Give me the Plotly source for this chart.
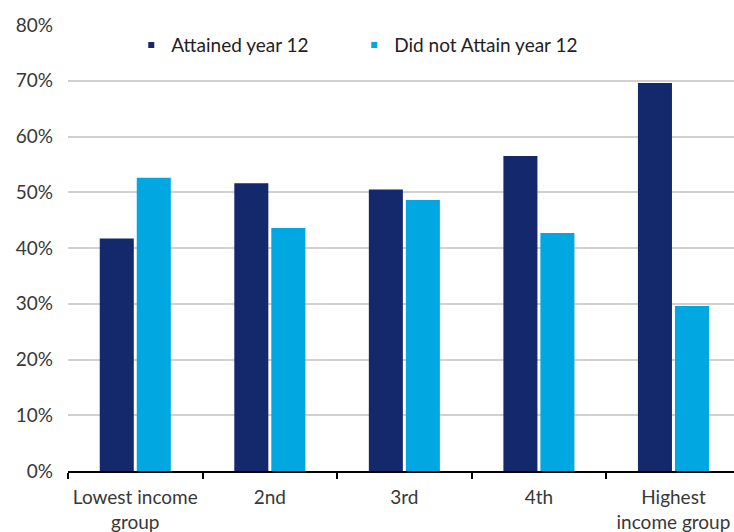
import plotly.graph_objects as go

# Share of people in each income group, by year 12 attainment
categories = ["Lowest income<br>group", "2nd", "3rd", "4th", "Highest<br>income group"]
attained = [41.7, 51.6, 50.5, 56.5, 69.6]
not_attained = [52.6, 43.6, 48.6, 42.7, 29.6]
y_ticks = [0, 10, 20, 30, 40, 50, 60, 70, 80]
y_tick_labels = [f"{v}%" for v in y_ticks]

series_names = ["Attained year 12", "Did not Attain year 12"]
dark_blue = "#14296B"
light_blue = "#00A7E1"
font_family = "Lato, 'Open Sans', sans-serif"
text_color = "#383838"

fig = go.Figure()
fig.add_trace(go.Bar(x=categories, y=attained, marker_color=dark_blue,
                     marker_line_width=0, showlegend=False, name=series_names[0]))
fig.add_trace(go.Bar(x=categories, y=not_attained, marker_color=light_blue,
                     marker_line_width=0, showlegend=False, name=series_names[1]))

# Small square legend keys
for name, col in zip(series_names, [dark_blue, light_blue]):
    fig.add_trace(go.Scatter(x=[None], y=[None], mode="markers", name=name,
                             marker=dict(symbol="square", size=6, color=col)))

fig.update_layout(
    width=734, height=532,
    margin=dict(l=68, r=0, t=25, b=61, autoexpand=False),
    paper_bgcolor="white", plot_bgcolor="white",
    barmode="group", bargap=0.45, bargroupgap=0.08,
    font=dict(family=font_family, size=19, color=text_color),
    legend=dict(orientation="h", x=0.095, y=0.955, xanchor="left", yanchor="middle",
                bgcolor="rgba(0,0,0,0)", font=dict(size=19, color="#222222"),
                entrywidth=178, entrywidthmode="pixels", itemclick=False),
    xaxis=dict(
        type="category", range=[-0.5, 4.45], automargin=False, tickangle=0,
        showline=True, linecolor="black", linewidth=2,
        ticks="outside", tickson="boundaries", ticklen=6, tickwidth=2, tickcolor="black",
        showgrid=False, ticklabelstandoff=8, tickfont=dict(size=19, color=text_color),
    ),
    yaxis=dict(
        range=[0, 80], tickvals=y_ticks, ticktext=y_tick_labels, automargin=False,
        showgrid=True, gridcolor="#D3CFCF", gridwidth=1.5,
        zeroline=False, showline=False, ticks="",
        ticklabelstandoff=14, tickfont=dict(size=19, color=text_color),
    ),
)

fig.write_html("out.html")
